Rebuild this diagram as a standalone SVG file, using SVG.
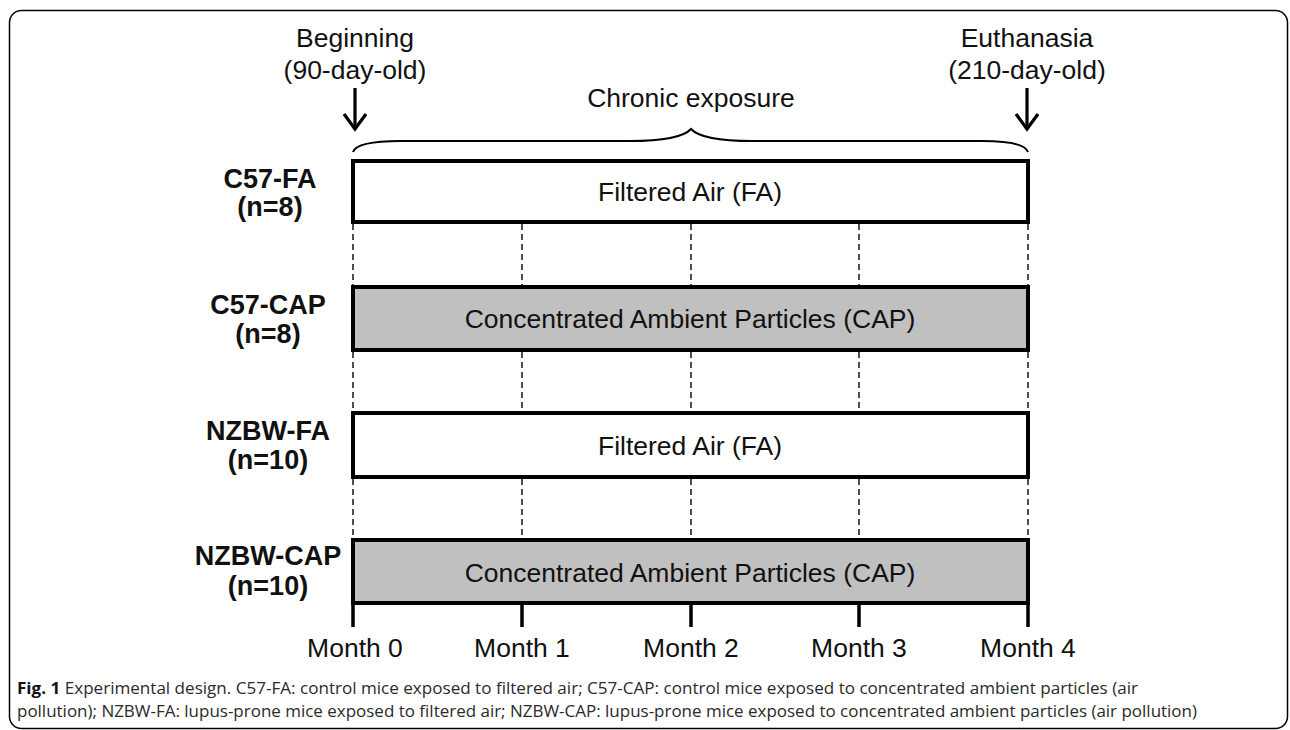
<svg xmlns="http://www.w3.org/2000/svg" width="1290" height="730" viewBox="0 0 1290 730">
<defs>
<style>
.t{font-family:"Liberation Sans",Arial,sans-serif;font-size:26.5px;fill:#111;text-anchor:middle}
.b{font-family:"Liberation Sans",Arial,sans-serif;font-size:27px;font-weight:bold;fill:#111;text-anchor:middle}
.bar{stroke:#000;stroke-width:4}
.fa{fill:#fff}
.cap{fill:#c0c0c0}
.dash{stroke:#222;stroke-width:1.6;stroke-dasharray:6 4;fill:none}
.tick{stroke:#000;stroke-width:3.5}
.arr{stroke:#000;stroke-width:3.2;fill:none}
.cp{font-family:"Open Sans","Noto Sans",sans-serif;font-size:16.8px;fill:#2a2a2a}
</style>
</defs>
<rect x="9.5" y="10.5" width="1278" height="718" rx="12" ry="12" fill="#fff" stroke="#000" stroke-width="1.5"/>

<g id="connectors">
  <g class="dash">
    <line x1="353" y1="224" x2="353" y2="285"/>
    <line x1="522" y1="224" x2="522" y2="285"/>
    <line x1="691" y1="224" x2="691" y2="285"/>
    <line x1="859" y1="224" x2="859" y2="285"/>
    <line x1="1028" y1="224" x2="1028" y2="285"/>
    <line x1="353" y1="352" x2="353" y2="411"/>
    <line x1="522" y1="352" x2="522" y2="411"/>
    <line x1="691" y1="352" x2="691" y2="411"/>
    <line x1="859" y1="352" x2="859" y2="411"/>
    <line x1="1028" y1="352" x2="1028" y2="411"/>
    <line x1="353" y1="479" x2="353" y2="538"/>
    <line x1="522" y1="479" x2="522" y2="538"/>
    <line x1="691" y1="479" x2="691" y2="538"/>
    <line x1="859" y1="479" x2="859" y2="538"/>
    <line x1="1028" y1="479" x2="1028" y2="538"/>
  </g>
  <g class="tick">
    <line x1="353" y1="603" x2="353" y2="627"/>
    <line x1="522" y1="603" x2="522" y2="627"/>
    <line x1="691" y1="603" x2="691" y2="627"/>
    <line x1="859" y1="603" x2="859" y2="627"/>
    <line x1="1028" y1="603" x2="1028" y2="627"/>
  </g>
  <g class="arr">
    <line x1="355" y1="88" x2="355" y2="128"/>
    <polyline points="344,114 355,129 366,114"/>
    <line x1="1027" y1="88" x2="1027" y2="128"/>
    <polyline points="1016,114 1027,129 1038,114"/>
  </g>
  <path d="M353,152 Q357,141 400,141 L630,141 Q680,141 691,129 Q702,141 752,141 L982,141 Q1024,141 1028,152" fill="none" stroke="#000" stroke-width="2"/>
</g>

<g id="header">
  <text class="t" x="355" y="47">Beginning</text>
  <text class="t" x="355" y="79">(90-day-old)</text>
  <text class="t" x="1027" y="47">Euthanasia</text>
  <text class="t" x="1027" y="79">(210-day-old)</text>
  <text class="t" x="691" y="107">Chronic exposure</text>
</g>

<g id="c57-fa">
  <text class="b" x="270" y="188">C57-FA</text>
  <text class="b" x="270" y="216">(n=8)</text>
  <rect class="bar fa" x="353" y="161" width="675" height="61"/>
  <text class="t" x="690" y="201">Filtered Air (FA)</text>
</g>

<g id="c57-cap">
  <text class="b" x="268" y="314">C57-CAP</text>
  <text class="b" x="268" y="343">(n=8)</text>
  <rect class="bar cap" x="353" y="287" width="675" height="63"/>
  <text class="t" x="690" y="328">Concentrated Ambient Particles (CAP)</text>
</g>

<g id="nzbw-fa">
  <text class="b" x="268" y="440">NZBW-FA</text>
  <text class="b" x="268" y="469">(n=10)</text>
  <rect class="bar fa" x="353" y="413" width="675" height="64"/>
  <text class="t" x="690" y="455">Filtered Air (FA)</text>
</g>

<g id="nzbw-cap">
  <text class="b" x="268" y="565">NZBW-CAP</text>
  <text class="b" x="268" y="595">(n=10)</text>
  <rect class="bar cap" x="353" y="540" width="675" height="63"/>
  <text class="t" x="690" y="582">Concentrated Ambient Particles (CAP)</text>
</g>

<g id="months">
  <text class="t" x="355" y="657">Month 0</text>
  <text class="t" x="522" y="657">Month 1</text>
  <text class="t" x="691" y="657">Month 2</text>
  <text class="t" x="859" y="657">Month 3</text>
  <text class="t" x="1028" y="657">Month 4</text>
</g>

<g id="caption">
  <text class="cp" x="17" y="694" textLength="1121" lengthAdjust="spacingAndGlyphs"><tspan font-weight="bold" fill="#111">Fig. 1</tspan> Experimental design. C57-FA: control mice exposed to filtered air; C57-CAP: control mice exposed to concentrated ambient particles (air</text>
  <text class="cp" x="17" y="717" textLength="1180" lengthAdjust="spacingAndGlyphs">pollution); NZBW-FA: lupus-prone mice exposed to filtered air; NZBW-CAP: lupus-prone mice exposed to concentrated ambient particles (air pollution)</text>
</g>
</svg>
